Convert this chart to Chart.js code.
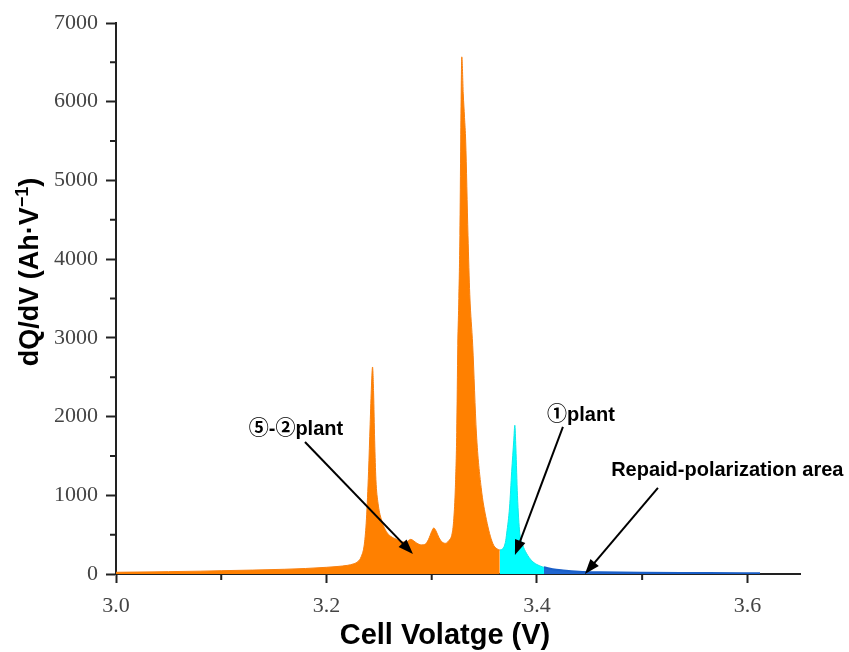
<!DOCTYPE html>
<html>
<head>
<meta charset="utf-8">
<script src="https://cdn.jsdelivr.net/npm/chart.js@4/dist/chart.umd.min.js"></script>
<style>
    body { margin: 0; background: #fff; }
</style>
</head>
<body>
<canvas id="dqdvChart" width="849" height="652"></canvas>
<script>

// ======================
// DATA
// ======================

// ⑤-② plant region
const orangeV = [
    3.000, 3.020, 3.050, 3.080, 3.100, 3.130, 3.160, 3.180, 3.200, 3.210,
    3.220, 3.226, 3.230, 3.233, 3.236, 3.238, 3.240, 3.2415, 3.2428, 3.2438,
    3.2448, 3.2458, 3.247, 3.249, 3.252, 3.256, 3.260, 3.265, 3.270, 3.274,
    3.277, 3.280, 3.2825, 3.286, 3.290, 3.294, 3.297, 3.300, 3.302, 3.304,
    3.307, 3.310, 3.313, 3.316, 3.3195, 3.321, 3.3225, 3.3238, 3.3248, 3.3258,
    3.3268, 3.3276, 3.3286, 3.3300, 3.3312, 3.3323, 3.3345, 3.3362, 3.3390, 3.3425,
    3.3470, 3.3520, 3.3580, 3.3620, 3.3647
];
const orangeQ = [
    22, 25, 30, 36, 42, 50, 60, 70, 85, 95,
    110, 130, 160, 220, 380, 700, 1300, 1900, 2400, 2630,
    2300, 1700, 1200, 900, 700, 560, 490, 450, 420, 405,
    415, 440, 425, 390, 370, 380, 440, 540, 585, 550,
    460, 405, 390, 420, 520, 700, 1100, 1800, 2900, 3500,
    4300, 5500, 6570, 6100, 5800, 5500, 4300, 3550, 2900, 1790,
    1100, 690, 390, 320, 305
];

// ① plant region
const cyanV = [
    3.3647, 3.3675, 3.3700, 3.3713, 3.3740, 3.3760, 3.3780, 3.3790, 3.3800, 3.3815,
    3.3837, 3.3865, 3.3900, 3.3950, 3.4000, 3.4055, 3.4067
];
const cyanQ = [
    305, 320, 400, 520, 850, 1300, 1700, 1890, 1600, 1000,
    520, 370, 265, 170, 120, 90, 85
];

// Repaid-polarization area
const blueV = [3.4067, 3.415, 3.425, 3.440, 3.460, 3.500, 3.550, 3.600, 3.612];
const blueQ = [85, 60, 45, 30, 22, 15, 12, 10, 10];

const xMajor = [3.0, 3.2, 3.4, 3.6];
const xMinor = [3.1, 3.3, 3.5];
const yMajor = [0, 1000, 2000, 3000, 4000, 5000, 6000, 7000];
const yMinor = [500, 1500, 2500, 3500, 4500, 5500, 6500];

// labels + arrows, in data units
const notes = [
    { text: "⑤-②plant", at: [3.171, 1842], from: [3.1796, 1677], to: [3.2822, 254] },
    { text: "①plant", at: [3.4418, 2008], from: [3.4247, 1868], to: [3.3791, 241] },
    { text: "Repaid-polarization area", at: [3.5809, 1321], from: [3.515, 1093], to: [3.4456, 0] }
];

const BOLD = "'Liberation Sans', Arial, 'Noto Sans CJK SC', sans-serif";

function toPoints(vs, qs) {
    return vs.map((v, i) => ({ x: v, y: qs[i] }));
}

function drawArrow(ctx, x1, y1, x2, y2) {
    const ang = Math.atan2(y2 - y1, x2 - x1);
    const head = 15;
    const wing = 5.5;
    const c = Math.cos(ang);
    const s = Math.sin(ang);

    ctx.beginPath();
    ctx.moveTo(x1, y1);
    ctx.lineTo(x2 - head * 0.8 * c, y2 - head * 0.8 * s);
    ctx.stroke();

    ctx.beginPath();
    ctx.moveTo(x2, y2);
    ctx.lineTo(x2 - head * c + wing * s, y2 - head * s - wing * c);
    ctx.lineTo(x2 - head * c - wing * s, y2 - head * s + wing * c);
    ctx.closePath();
    ctx.fill();
}

// minor ticks, axis titles, annotations
const extrasPlugin = {
    id: "extras",
    afterDraw(chart) {
        const ctx = chart.ctx;
        const x = chart.scales.x;
        const y = chart.scales.y;
        const area = chart.chartArea;

        ctx.save();
        ctx.strokeStyle = "#222";
        ctx.lineWidth = 2;
        ctx.beginPath();
        yMinor.forEach(v => {
            const py = y.getPixelForValue(v);
            ctx.moveTo(area.left - 6, py);
            ctx.lineTo(area.left, py);
        });
        xMinor.forEach(v => {
            const px = x.getPixelForValue(v);
            ctx.moveTo(px, area.bottom);
            ctx.lineTo(px, area.bottom + 6);
        });
        ctx.stroke();

        // x title
        ctx.fillStyle = "#000";
        ctx.font = "bold 29px " + BOLD;
        ctx.textAlign = "center";
        ctx.textBaseline = "middle";
        ctx.fillText("Cell Volatge (V)", 445, 636);

        // y title with superscript
        ctx.save();
        ctx.translate(31, 272);
        ctx.rotate(-Math.PI / 2);
        ctx.textAlign = "left";
        ctx.textBaseline = "middle";
        const main = "dQ/dV (Ah·V";
        const sup = "−1";
        const close = ")";
        ctx.font = "bold 27px " + BOLD;
        const w1 = ctx.measureText(main).width;
        const w3 = ctx.measureText(close).width;
        ctx.font = "bold 18px " + BOLD;
        const w2 = ctx.measureText(sup).width;
        let cx = -(w1 + w2 + w3) / 2;
        ctx.font = "bold 27px " + BOLD;
        ctx.fillText(main, cx, 0);
        cx += w1;
        ctx.font = "bold 18px " + BOLD;
        ctx.fillText(sup, cx, -8);
        cx += w2;
        ctx.font = "bold 27px " + BOLD;
        ctx.fillText(close, cx, 0);
        ctx.restore();

        ctx.strokeStyle = "#000";
        ctx.fillStyle = "#000";
        ctx.lineWidth = 2;
        notes.forEach(n => {
            drawArrow(
                ctx,
                x.getPixelForValue(n.from[0]), y.getPixelForValue(n.from[1]),
                x.getPixelForValue(n.to[0]), y.getPixelForValue(n.to[1])
            );
        });

        ctx.font = "bold 20px " + BOLD;
        ctx.textAlign = "center";
        ctx.textBaseline = "middle";
        notes.forEach(n => {
            ctx.fillText(n.text, x.getPixelForValue(n.at[0]), y.getPixelForValue(n.at[1]));
        });
        ctx.restore();
    }
};

new Chart(
    document.getElementById("dqdvChart"),
    {
        type: "line",

        data: {
            datasets: [
                {
                    data: toPoints(orangeV, orangeQ),
                    borderColor: "#f88010",
                    backgroundColor: "#ff8000",
                    borderWidth: 1,
                    fill: "origin"
                },
                {
                    data: toPoints(cyanV, cyanQ),
                    borderColor: "#10e8e8",
                    backgroundColor: "#00ffff",
                    borderWidth: 1,
                    fill: "origin"
                },
                {
                    data: toPoints(blueV, blueQ),
                    borderColor: "#1a5fc8",
                    backgroundColor: "#1f66d1",
                    borderWidth: 2,
                    fill: "origin"
                }
            ]
        },

        options: {
            responsive: false,
            animation: false,
            elements: {
                point: { radius: 0 },
                line: { tension: 0.2, cubicInterpolationMode: "monotone" }
            },
            layout: {
                padding: { left: 0, top: 23, right: 49, bottom: 0 }
            },
            plugins: {
                legend: { display: false },
                tooltip: { enabled: false }
            },
            scales: {
                x: {
                    type: "linear",
                    min: 3.0,
                    max: 3.65,
                    afterBuildTicks: s => { s.ticks = xMajor.map(v => ({ value: v })); },
                    afterFit: s => { s.height = 78; },
                    grid: {
                        drawOnChartArea: false,
                        tickLength: 9,
                        tickColor: "#222",
                        tickWidth: 2
                    },
                    border: { color: "#222", width: 2 },
                    ticks: {
                        padding: 10,
                        color: "#444",
                        maxRotation: 0,
                        font: { family: "'Liberation Serif', 'Times New Roman', serif", size: 22 },
                        callback: v => v.toFixed(1)
                    }
                },
                y: {
                    min: 0,
                    max: 7000,
                    afterBuildTicks: s => { s.ticks = yMajor.map(v => ({ value: v })); },
                    afterFit: s => { s.width = 116; },
                    grid: {
                        drawOnChartArea: false,
                        tickLength: 10,
                        tickColor: "#222",
                        tickWidth: 2
                    },
                    border: { color: "#222", width: 2 },
                    ticks: {
                        padding: 8,
                        color: "#444",
                        font: { family: "'Liberation Serif', 'Times New Roman', serif", size: 22 },
                        callback: v => String(v)
                    }
                }
            }
        },

        plugins: [extrasPlugin]
    }
);
</script>
</body>
</html>
